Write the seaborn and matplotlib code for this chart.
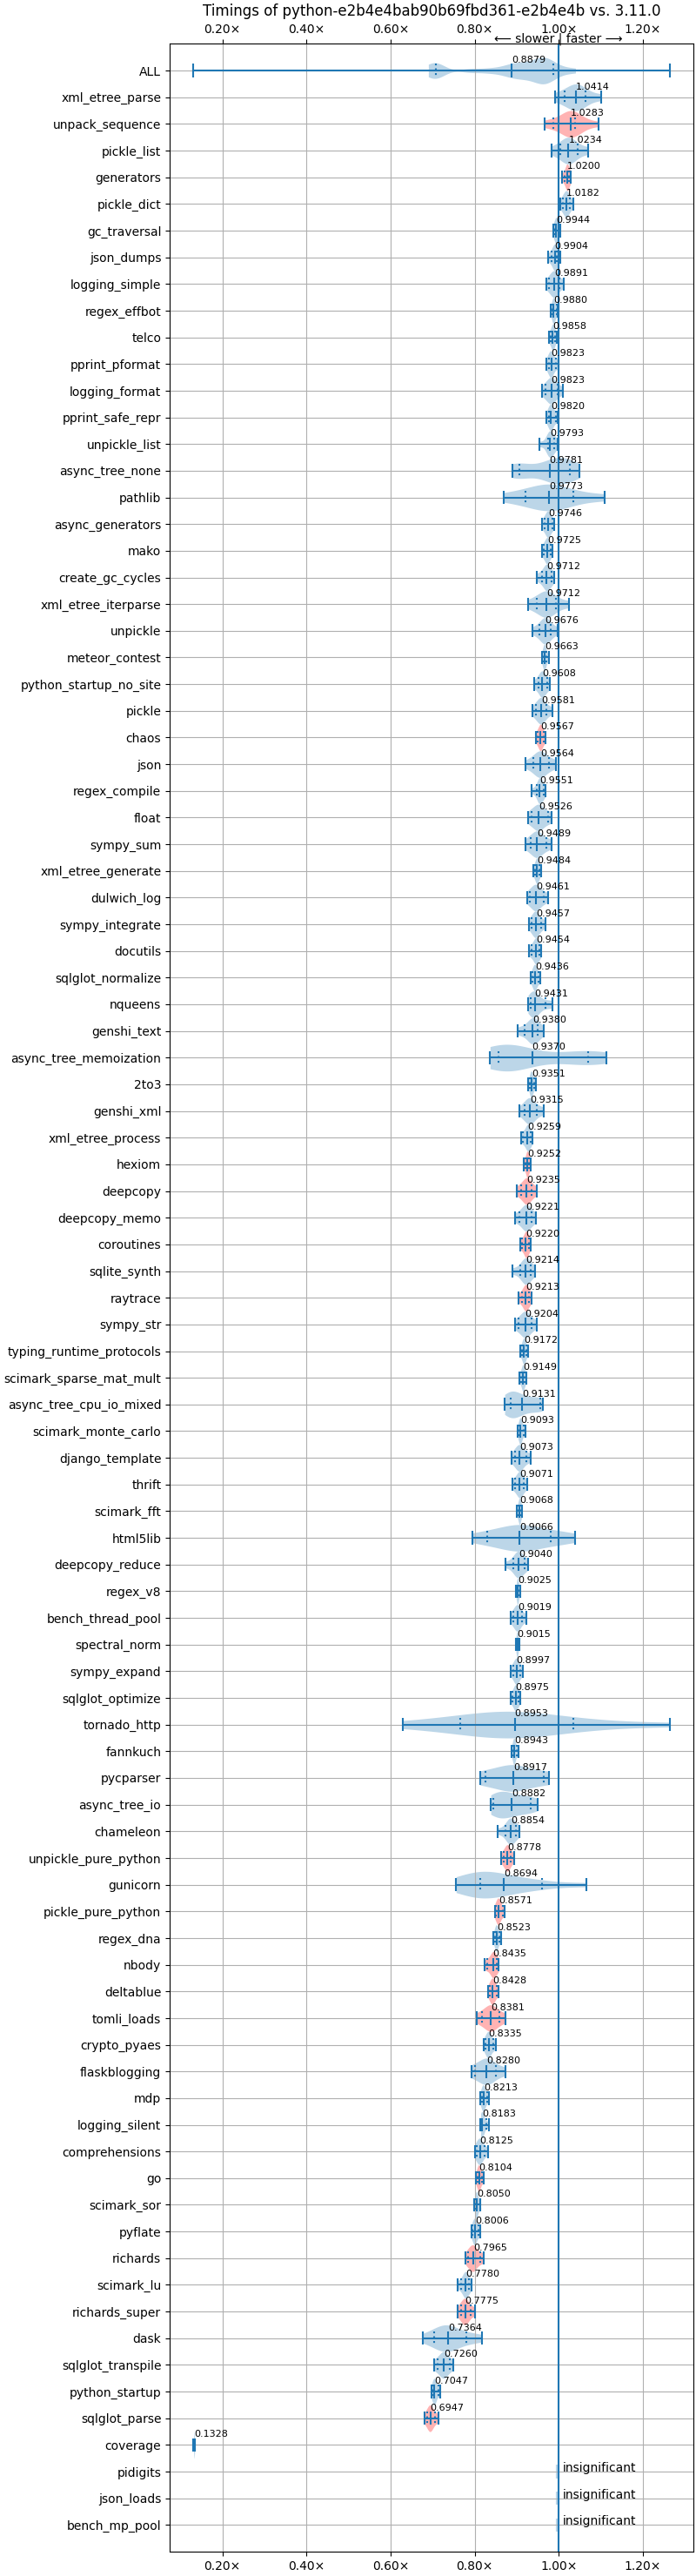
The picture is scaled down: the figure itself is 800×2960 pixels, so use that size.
import numpy as np
import pandas as pd
import matplotlib
matplotlib.use("Agg")
import matplotlib.pyplot as plt
from matplotlib.ticker import FuncFormatter
import seaborn as sns

title = "Timings of python-e2b4e4bab90b69fbd361-e2b4e4b vs. 3.11.0"

bench = [
    "ALL", "xml_etree_parse", "unpack_sequence", "pickle_list", "generators",
    "pickle_dict", "gc_traversal", "json_dumps", "logging_simple", "regex_effbot",
    "telco", "pprint_pformat", "logging_format", "pprint_safe_repr", "unpickle_list",
    "async_tree_none", "pathlib", "async_generators", "mako", "create_gc_cycles",
    "xml_etree_iterparse", "unpickle", "meteor_contest", "python_startup_no_site", "pickle",
    "chaos", "json", "regex_compile", "float", "sympy_sum",
    "xml_etree_generate", "dulwich_log", "sympy_integrate", "docutils", "sqlglot_normalize",
    "nqueens", "genshi_text", "async_tree_memoization", "2to3", "genshi_xml",
    "xml_etree_process", "hexiom", "deepcopy", "deepcopy_memo", "coroutines",
    "sqlite_synth", "raytrace", "sympy_str", "typing_runtime_protocols", "scimark_sparse_mat_mult",
    "async_tree_cpu_io_mixed", "scimark_monte_carlo", "django_template", "thrift", "scimark_fft",
    "html5lib", "deepcopy_reduce", "regex_v8", "bench_thread_pool", "spectral_norm",
    "sympy_expand", "sqlglot_optimize", "tornado_http", "fannkuch", "pycparser",
    "async_tree_io", "chameleon", "unpickle_pure_python", "gunicorn", "pickle_pure_python",
    "regex_dna", "nbody", "deltablue", "tomli_loads", "crypto_pyaes",
    "flaskblogging", "mdp", "logging_silent", "comprehensions", "go",
    "scimark_sor", "pyflate", "richards", "scimark_lu", "richards_super",
    "dask", "sqlglot_transpile", "python_startup", "sqlglot_parse", "coverage",
]
insignificant = ["pidigits", "json_loads", "bench_mp_pool"]

# extrema, 10% / 90% quantiles and mean
lo = [
    0.1312, 0.9917, 0.9670, 0.9835, 1.0083, 1.0041, 0.9862, 0.9752, 0.9711, 0.9807,
    0.9766, 0.9711, 0.9601, 0.9711, 0.9545, 0.8905, 0.8698, 0.9607, 0.9607, 0.9483,
    0.9277, 0.9373, 0.9601, 0.9415, 0.9373, 0.9463, 0.9208, 0.9360, 0.9277, 0.9208,
    0.9394, 0.9242, 0.9291, 0.9298, 0.9339, 0.9270, 0.9015, 0.8368, 0.9277, 0.9070,
    0.9112, 0.9174, 0.9001, 0.8960, 0.9091, 0.8898, 0.9043, 0.8960, 0.9084, 0.9072,
    0.8715, 0.9031, 0.8887, 0.8900, 0.9003, 0.7938, 0.8735, 0.8983, 0.8866, 0.8983,
    0.8866, 0.8866, 0.6289, 0.8887, 0.8124, 0.8385, 0.8550, 0.8632, 0.7560, 0.8481,
    0.8454, 0.8247, 0.8316, 0.8048, 0.8220, 0.7918, 0.8137, 0.8144, 0.8000, 0.8027,
    0.7993, 0.7918, 0.7787, 0.7601, 0.7601, 0.6763, 0.7038, 0.6969, 0.6804, 0.1312,
]
q10 = [
    0.7080, 1.0138, 0.9876, 1.0034, 1.0138, 1.0096, 0.9897, 0.9821, 0.9773, 0.9842,
    0.9800, 0.9759, 0.9690, 0.9759, 0.9738, 0.9070, 0.9208, 0.9663, 0.9642, 0.9594,
    0.9483, 0.9532, 0.9628, 0.9511, 0.9463, 0.9497, 0.9401, 0.9483, 0.9346, 0.9325,
    0.9428, 0.9311, 0.9360, 0.9346, 0.9380, 0.9339, 0.9187, 0.8574, 0.9318, 0.9187,
    0.9153, 0.9208, 0.9098, 0.9070, 0.9132, 0.9084, 0.9118, 0.9050, 0.9118, 0.9100,
    0.8852, 0.9058, 0.8962, 0.8962, 0.9031, 0.8309, 0.8928, 0.9003, 0.8921, 0.8997,
    0.8914, 0.8900, 0.7656, 0.8914, 0.8268, 0.8447, 0.8742, 0.8687, 0.8124, 0.8509,
    0.8481, 0.8296, 0.8357, 0.8179, 0.8261, 0.8000, 0.8172, 0.8158, 0.8041, 0.8062,
    0.8021, 0.7952, 0.7849, 0.7684, 0.7670, 0.7038, 0.7113, 0.7010, 0.6873, 0.1318,
]
mean = [
    0.8879, 1.0414, 1.0283, 1.0234, 1.0200, 1.0182, 0.9944, 0.9904, 0.9891, 0.9880,
    0.9858, 0.9823, 0.9823, 0.9820, 0.9793, 0.9781, 0.9773, 0.9746, 0.9725, 0.9712,
    0.9712, 0.9676, 0.9663, 0.9608, 0.9581, 0.9567, 0.9564, 0.9551, 0.9526, 0.9489,
    0.9484, 0.9461, 0.9457, 0.9454, 0.9436, 0.9431, 0.9380, 0.9370, 0.9351, 0.9315,
    0.9259, 0.9252, 0.9235, 0.9221, 0.9220, 0.9214, 0.9213, 0.9204, 0.9172, 0.9149,
    0.9131, 0.9093, 0.9073, 0.9071, 0.9068, 0.9066, 0.9040, 0.9025, 0.9019, 0.9015,
    0.8997, 0.8975, 0.8953, 0.8943, 0.8917, 0.8882, 0.8854, 0.8778, 0.8694, 0.8571,
    0.8523, 0.8435, 0.8428, 0.8381, 0.8335, 0.8280, 0.8213, 0.8183, 0.8125, 0.8104,
    0.8050, 0.8006, 0.7965, 0.7780, 0.7775, 0.7364, 0.7260, 0.7047, 0.6947, 0.1328,
]
q90 = [
    0.9880, 1.0640, 1.0393, 1.0448, 1.0255, 1.0275, 1.0014, 0.9959, 1.0014, 0.9945,
    0.9910, 0.9931, 0.9966, 0.9931, 0.9897, 1.0269, 1.0344, 0.9842, 0.9807, 0.9821,
    0.9938, 0.9807, 0.9711, 0.9725, 0.9711, 0.9642, 0.9773, 0.9635, 0.9738, 0.9704,
    0.9539, 0.9635, 0.9580, 0.9539, 0.9525, 0.9690, 0.9497, 1.0702, 0.9415, 0.9483,
    0.9332, 0.9298, 0.9360, 0.9360, 0.9290, 0.9332, 0.9298, 0.9346, 0.9222, 0.9196,
    0.9553, 0.9175, 0.9223, 0.9168, 0.9107, 0.9814, 0.9189, 0.9065, 0.9127, 0.9052,
    0.9086, 0.9052, 1.0351, 0.9010, 0.9649, 0.9326, 0.8983, 0.8866, 0.9594, 0.8674,
    0.8591, 0.8522, 0.8522, 0.8584, 0.8447, 0.8509, 0.8302, 0.8280, 0.8234, 0.8172,
    0.8124, 0.8096, 0.8131, 0.7870, 0.7904, 0.7794, 0.7402, 0.7141, 0.7058, 0.1338,
]
hi = [
    1.2639, 1.1012, 1.0944, 1.0702, 1.0296, 1.0358, 1.0048, 1.0048, 1.0124, 0.9966,
    0.9952, 0.9993, 1.0096, 0.9979, 0.9972, 1.0503, 1.1095, 0.9897, 0.9855, 0.9883,
    1.0255, 0.9966, 0.9766, 0.9793, 0.9842, 0.9683, 0.9938, 0.9676, 0.9821, 0.9821,
    0.9580, 0.9738, 0.9676, 0.9580, 0.9566, 0.9842, 0.9635, 1.1136, 0.9449, 0.9635,
    0.9380, 0.9325, 0.9470, 0.9449, 0.9325, 0.9428, 0.9360, 0.9470, 0.9263, 0.9223,
    0.9629, 0.9203, 0.9326, 0.9244, 0.9134, 1.0392, 0.9278, 0.9086, 0.9223, 0.9072,
    0.9155, 0.9086, 1.2639, 0.9038, 0.9773, 0.9498, 0.9072, 0.8948, 1.0653, 0.8715,
    0.8625, 0.8570, 0.8577, 0.8735, 0.8502, 0.8729, 0.8350, 0.8350, 0.8316, 0.8213,
    0.8144, 0.8131, 0.8220, 0.7918, 0.8014, 0.8165, 0.7491, 0.7182, 0.7141, 0.1345,
]

slower = [
    "unpack_sequence", "generators", "chaos", "hexiom", "deepcopy", "coroutines",
    "raytrace", "unpickle_pure_python", "pickle_pure_python", "nbody", "deltablue",
    "tomli_loads", "go", "richards", "richards_super", "sqlglot_parse",
]

# sample points for violins whose shape is not a simple lens
shape_pts = {
    "ALL": [0.69, 0.70, 0.705, 0.71, 0.72, 0.79, 0.83, 0.86, 0.88, 0.89, 0.90, 0.91,
            0.92, 0.93, 0.94, 0.95, 0.955, 0.96, 0.965, 0.97, 0.975, 0.98, 0.99, 1.01, 1.04],
    "unpack_sequence": [0.967, 0.985, 1.01, 1.02, 1.026, 1.028, 1.03, 1.035, 1.045,
                        1.06, 1.0944],
    "async_tree_none": [0.8905, 0.90, 0.905, 0.91, 0.97, 0.98, 0.99, 1.0, 1.0, 1.01,
                        1.02, 1.03, 1.0503],
    "async_tree_memoization": [0.8368, 0.85, 0.86, 0.87, 0.875, 0.88, 0.89, 0.90, 0.915,
                               1.02, 1.05, 1.07, 1.09, 1.1136],
    "async_tree_cpu_io_mixed": [0.8715, 0.88, 0.885, 0.89, 0.895, 0.905, 0.92, 0.94,
                                0.955, 0.9629],
    "html5lib": [0.7938, 0.83, 0.85, 0.89, 0.90, 0.905, 0.91, 0.92, 0.95, 0.98, 1.0, 1.0392],
    "tornado_http": [0.6289, 0.72, 0.78, 0.82, 0.85, 0.87, 0.89, 0.90, 0.93, 0.97, 1.03,
                     1.10, 1.2639],
    "async_tree_io": [0.8385, 0.845, 0.855, 0.865, 0.875, 0.885, 0.90, 0.92, 0.9326, 0.9498],
    "gunicorn": [0.756, 0.79, 0.80, 0.81, 0.82, 0.83, 0.84, 0.86, 0.89, 0.93, 0.96, 1.0653],
    "dask": [0.6763, 0.70, 0.715, 0.725, 0.73, 0.735, 0.74, 0.75, 0.77, 0.79, 0.8165],
}

names = bench + insignificant

rows = []
for i, name in enumerate(bench):
    if name == "ALL":
        continue
    pts = shape_pts.get(name, [lo[i], q10[i]] + [mean[i]] * 4 + [q90[i], hi[i]])
    rows += [(name, v) for v in pts]
df = pd.DataFrame(rows, columns=["bench", "speedup"])
df_all = pd.DataFrame({"bench": "ALL", "speedup": shape_pts["ALL"]})

blue_body = "#bcd6e8"
red_body = "#ffb3b3"
pal = {n: (red_body if n in slower else blue_body) for n in bench}

fig = plt.figure(figsize=(8, 29.6), dpi=100)
ax = fig.add_axes([0.2438, 0.00946, 0.7525, 0.97351])

ax.axvline(1.0, color="C0", lw=1.5)

sns.violinplot(data=df, x="speedup", y="bench", hue="bench", order=names,
               palette=pal, saturation=1, legend=False, density_norm="width",
               width=1.0, cut=0, inner=None, linewidth=0, ax=ax)
sns.violinplot(data=df_all, x="speedup", y="bench", order=names, color=blue_body,
               saturation=1, density_norm="width", width=1.0, cut=0, inner=None,
               linewidth=0, bw_adjust=0.35, ax=ax)

ypos = np.arange(len(bench))
ax.hlines(ypos, lo, hi, color="C0", lw=1.5)
for vals, ls in ((lo, "-"), (hi, "-"), (mean, "-"), (q10, ":"), (q90, ":")):
    ax.vlines(vals, ypos - 0.25, ypos + 0.25, color="C0", lw=1.5, linestyles=ls)
for y, m in zip(ypos, mean):
    ax.text(m, y - 0.3, f"{m:.4f}", size=8)

for n in insignificant:
    y = names.index(n)
    ax.vlines(0.998, y - 0.25, y + 0.25, color=blue_body, lw=3, zorder=1)
    ax.text(1.01, y, "insignificant")

ax.set_ylim(len(names), -1)
ax.set_xlabel("")
ax.set_ylabel("")
ax.grid(True)
ax.xaxis.set_major_formatter(FuncFormatter(lambda x, _: f"{x:.2f}\u00d7"))
ax.tick_params(axis="x", top=True, labeltop=True)
ax.set_title(title)
ax.annotate("\u27f5 slower | faster \u27f6", xy=(1.0, 1.0),
            xycoords=("data", "axes fraction"), xytext=(0, 1.5),
            textcoords="offset points", ha="center", va="baseline")

fig.savefig("out.png")
